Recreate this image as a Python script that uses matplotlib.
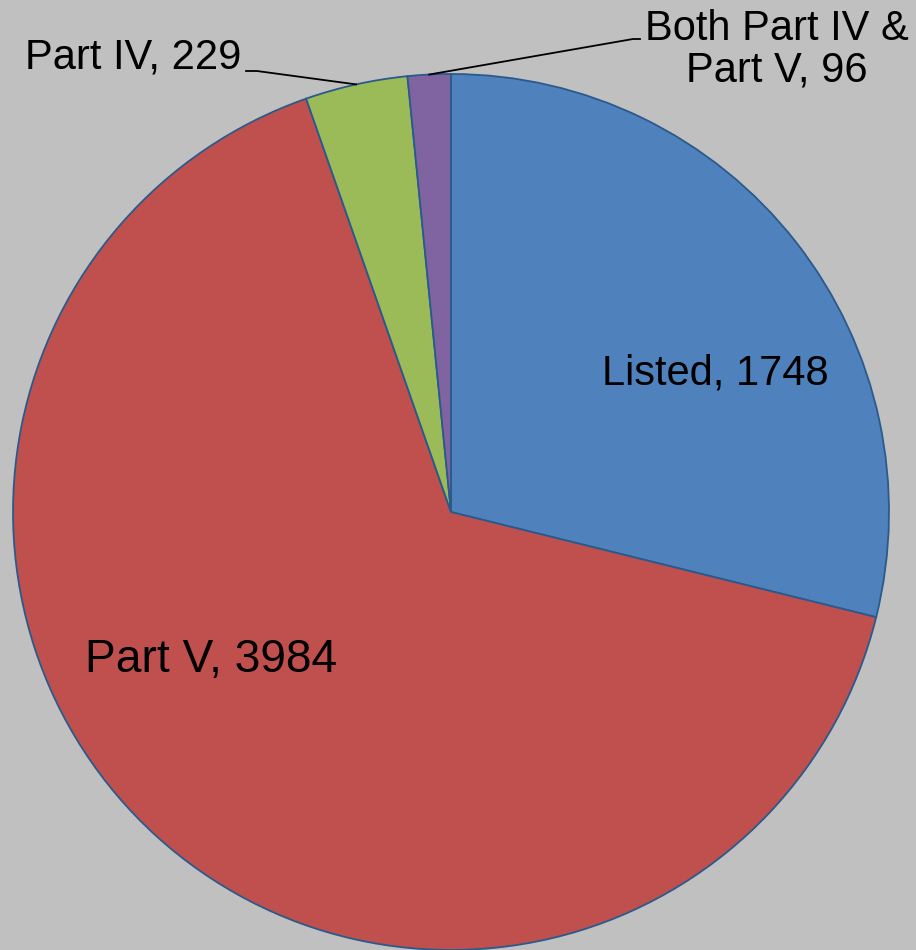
import numpy as np
import matplotlib
matplotlib.use("Agg")
import matplotlib.pyplot as plt

categories = ["Listed", "Part V", "Part IV", "Both Part IV &\nPart V"]
values = [1748, 3984, 229, 96]
colors = ["#4F81BD", "#C0504D", "#9BBB59", "#8064A2"]
bg = "#C0C0C0"
edge = "#2A5A8C"

W, H = 916, 950
fig = plt.figure(figsize=(W / 100, H / 100), dpi=100, facecolor=bg)
ax = fig.add_axes([0, 0, 1, 1])
ax.set_facecolor(bg)

cx, cy, R = 451, H - 512, 438
wedges, _ = ax.pie(values, colors=colors, startangle=90, counterclock=False,
                   center=(cx, cy), radius=R, frame=True,
                   wedgeprops=dict(edgecolor=edge, linewidth=1.3))
ax.set_xlim(0, W)
ax.set_ylim(0, H)
ax.set_aspect("equal")
ax.axis("off")

fam = ["Liberation Sans", "DejaVu Sans"]
font = dict(family=fam, fontsize=30, color="black")

def edge_point(w):
    ang = np.deg2rad((w.theta1 + w.theta2) / 2)
    return cx + R * np.cos(ang), cy + R * np.sin(ang)

# inside labels
ax.text(715, H - 373, f"{categories[0]}, {values[0]}", ha="center", va="center", **font)
ax.text(211, H - 660, f"{categories[1]}, {values[1]}", ha="center", va="center",
        family=fam, fontsize=33.2, color="black")

# Part IV label with leader
px, py = edge_point(wedges[2])
ax.text(241, H - 58, f"{categories[2]}, {values[2]}", ha="right", va="center", **font)
ax.plot([246, 257, px], [H - 71, H - 71, py], color="black", lw=1.3)

# Both label with leader
bx, by = edge_point(wedges[3])
ax.text(777, H - 50, f"{categories[3]}, {values[3]}", ha="center", va="center",
        linespacing=1.05, **font)
ax.plot([bx, 633, 640], [by, H - 39, H - 39], color="black", lw=1.3)

fig.savefig("out.png", dpi=100, facecolor=bg)
